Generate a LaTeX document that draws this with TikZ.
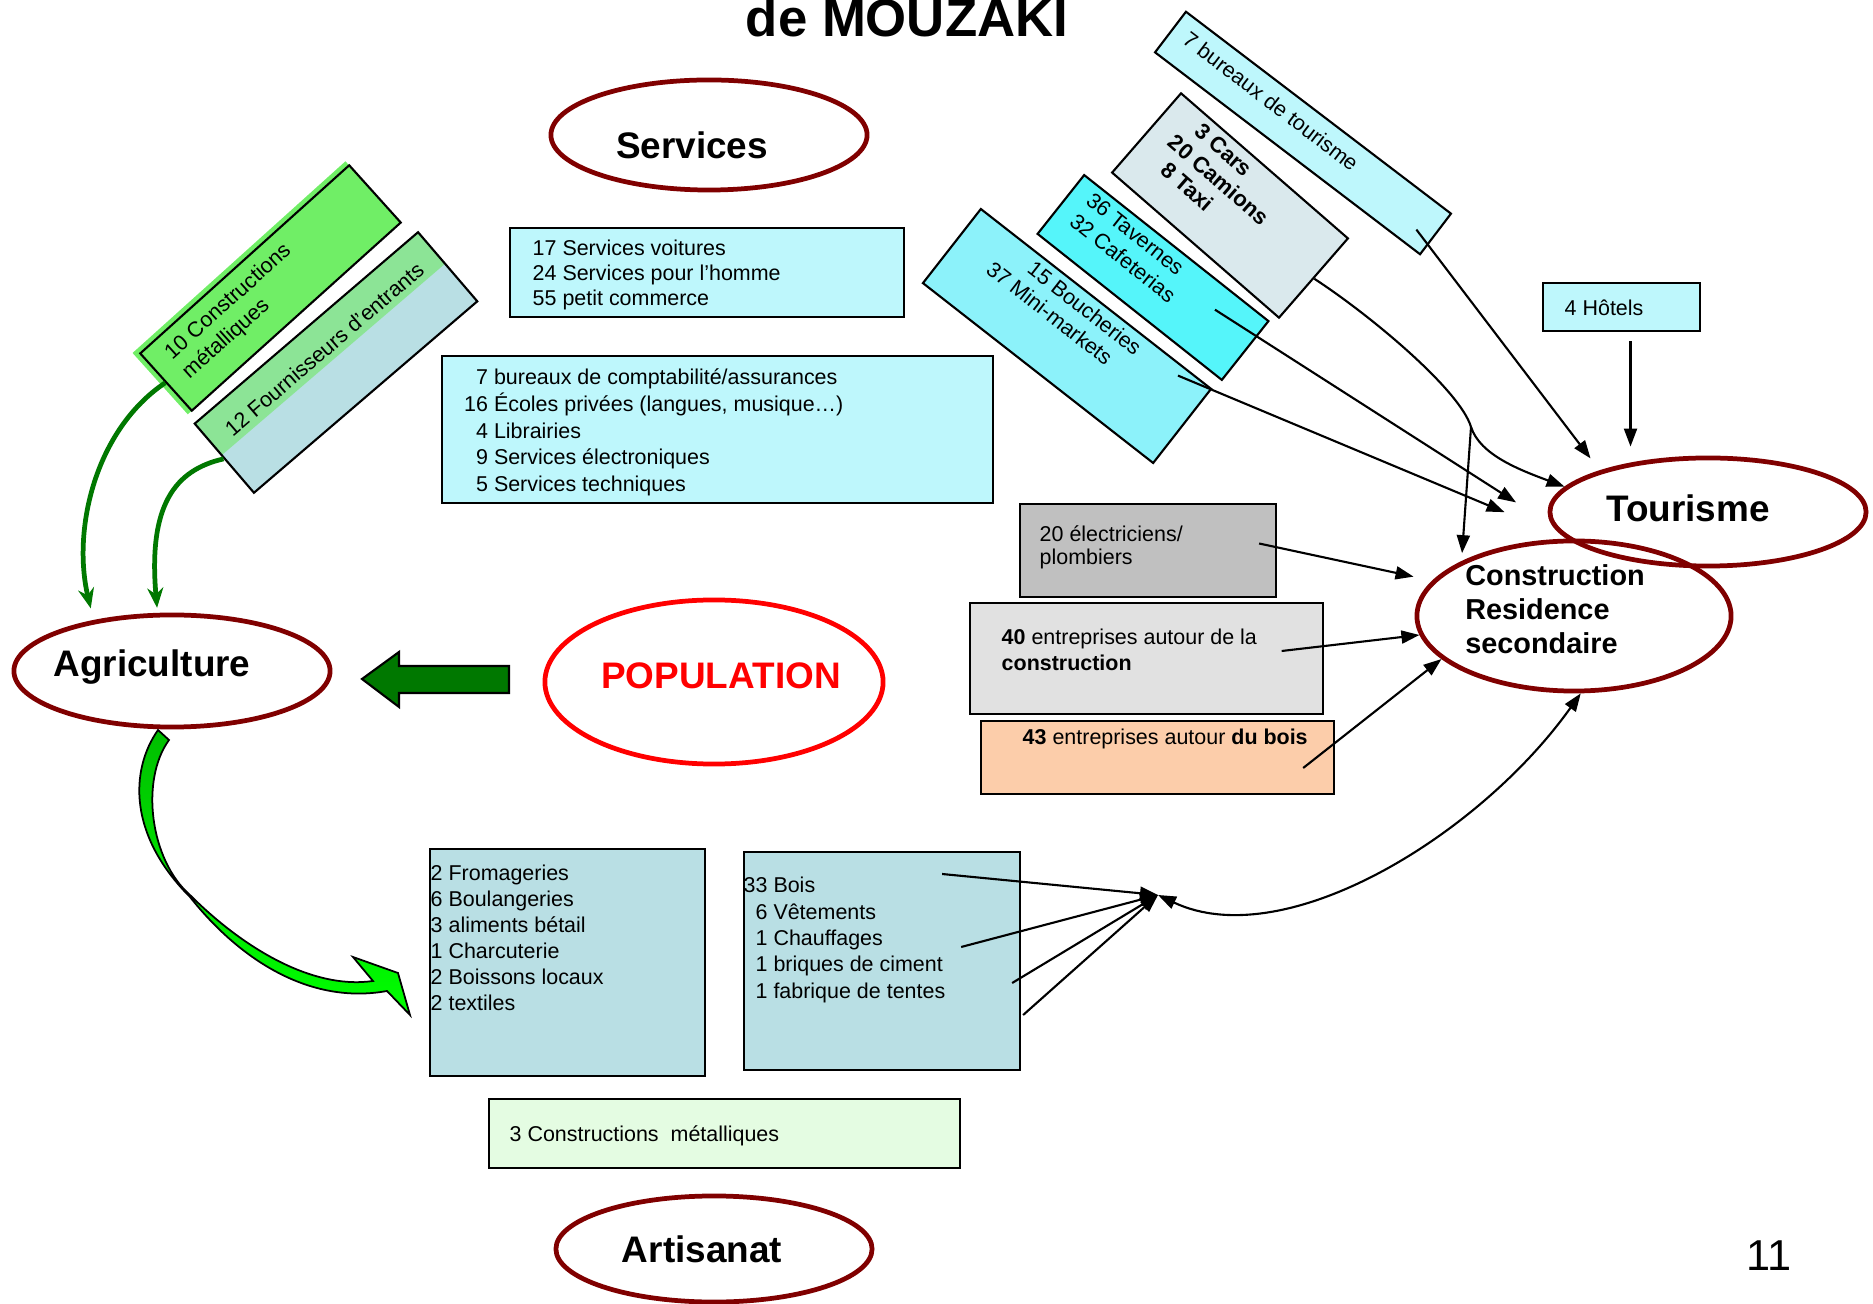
\documentclass[tikz,border=0pt]{standalone}
\usepackage{fontspec}
\setmainfont{Liberation Sans}
\usetikzlibrary{shapes.geometric,arrows.meta}

\definecolor{ellred}{RGB}{128,0,0}
\definecolor{popred}{RGB}{255,0,0}
\definecolor{cyanlt}{RGB}{190,247,252}
\definecolor{cyanmd}{RGB}{140,242,250}
\definecolor{cyanbr}{RGB}{85,245,250}
\definecolor{greyblue}{RGB}{218,233,237}
\definecolor{greenhat}{RGB}{112,238,102}
\definecolor{bandgr}{RGB}{140,228,150}
\definecolor{steel}{RGB}{185,223,228}
\definecolor{greymd}{RGB}{192,192,192}
\definecolor{greylt}{RGB}{225,225,225}
\definecolor{peach}{RGB}{252,205,170}
\definecolor{mint}{RGB}{228,252,226}
\definecolor{dkgreen}{RGB}{0,120,0}
\definecolor{brgreen}{RGB}{0,255,0}

\newcommand{\lignes}[1]{\begin{tabular}[t]{@{}l@{}}#1\end{tabular}}
\newcommand{\nlignes}[1]{\begin{tabular}[t]{@{}r@{ }l@{}}#1\end{tabular}}

\tikzset{
  bulle/.style={ellipse, draw=ellred, line width=1.35pt, inner sep=0pt},
  etiq/.style={inner sep=0pt, font=\bfseries\fontsize{10.5}{12}\selectfont},
  cadre/.style={draw, line width=0.6pt, inner sep=0pt},
  texte/.style={anchor=base west, inner sep=0pt, font=\fontsize{6.1}{7.4}\selectfont},
  fleche/.style={line width=0.6pt, -{Triangle[length=0.18cm,width=0.13cm]}},
  flecheverte/.style={draw=dkgreen, line width=1.35pt, -{Stealth[length=0.2cm,width=0.16cm]}},
}

\begin{document}
\begin{tikzpicture}[x=0.01cm, y=-0.01cm]
\useasboundingbox (0,0) rectangle (1873,1304);

\node[font=\bfseries\fontsize{15}{18}\selectfont, anchor=base] (titre) at (907,37) {de MOUZAKI};

% les secteurs
\node[bulle, minimum width=3.16cm, minimum height=1.1cm,
  label={[etiq, shift={(-17,10)}]center:Services}] (serv) at (709,135) {};
\node[bulle, minimum width=3.16cm, minimum height=1.08cm,
  label={[etiq, shift={(-20,-4)}]center:Tourisme}] (tour) at (1708,512) {};
\node[bulle, minimum width=3.14cm, minimum height=1.5cm,
  label={[etiq, align=left, font=\bfseries\fontsize{8.2}{9.6}\selectfont, shift={(-19,-7)}]center:{Construction\\Residence\\secondaire}}] (cons) at (1574,616) {};
\node[bulle, minimum width=3.16cm, minimum height=1.12cm,
  label={[etiq, shift={(-20,-4)}]center:Agriculture}] (agri) at (172,671) {};
\node[bulle, draw=popred, minimum width=3.38cm, minimum height=1.64cm,
  label={[etiq, text=popred, shift={(7,-6)}]center:POPULATION}] (popu) at (714,682) {};
\node[bulle, minimum width=3.16cm, minimum height=1.06cm,
  label={[etiq, shift={(-12,0)}]center:Artisanat}] (arti) at (714,1249) {};

% services
\node[cadre, fill=cyanlt, minimum width=3.94cm, minimum height=0.89cm] (sv) at (707,272.5) {};
\node[texte, font=\fontsize{6.1}{7}\selectfont] (svt) at (532,256)
  {\lignes{17 Services voitures\\24 Services pour l’homme\\55 petit commerce}};
\node[cadre, fill=cyanlt, minimum width=5.51cm, minimum height=1.47cm] (big) at (717.5,429.5) {};
\node[texte, font=\fontsize{6.1}{7.6}\selectfont] (bigt) at (463.5,384.7)
  {\nlignes{7 & bureaux de comptabilité/assurances\\16 & Écoles privées (langues, musique…)\\4 & Librairies\\9 & Services électroniques\\5 & Services techniques}};

% agriculture
\begin{scope}[shift={(270.5,288)}, rotate=42, transform shape]
\fill[greenhat] (-146,-44) rectangle (140.5,38.5);
\node[cadre, minimum width=2.81cm, minimum height=0.77cm] (cm) at (0,0) {};
\node[texte] (cmt) at (-122,-12) {\lignes{10 Constructions\\métalliques}};
\end{scope}
\begin{scope}[shift={(336,362.5)}, rotate=40.6, transform shape]
\fill[steel] (-147,-45.5) rectangle (147,45.5);
\fill[bandgr] (-147,-45.5) rectangle (147,-4);
\node[cadre, minimum width=2.94cm, minimum height=0.91cm] (fe) at (0,0) {};
\node[texte] (fet) at (-128,-10) {12 Fournisseurs d’entrants};
\end{scope}

% tourisme
\begin{scope}[shift={(1303,133)}, rotate=-37.3, transform shape]
\node[cadre, fill=cyanlt, minimum width=3.33cm, minimum height=0.51cm] (bt) at (0,0) {};
\node[texte] (btt) at (-152,2) {7 bureaux de tourisme};
\end{scope}
\begin{scope}[shift={(1230,205.5)}, rotate=-41, transform shape]
\node[cadre, fill=greyblue, minimum width=2.21cm, minimum height=1.05cm] (cars) at (0,0) {};
\node[texte, font=\bfseries\fontsize{6.3}{7.3}\selectfont] (carst) at (-88,-30) {\nlignes{3 & Cars\\20 & Camions\\8 & Taxi}};
\end{scope}
\begin{scope}[shift={(1153,277.5)}, rotate=-38.4, transform shape]
\node[cadre, fill=cyanbr, minimum width=2.35cm, minimum height=0.75cm] (tav) at (0,0) {};
\node[texte, font=\fontsize{6.1}{7.6}\selectfont] (tavt) at (-100,-15.7) {\lignes{36 Tavernes\\32 Cafeterias}};
\end{scope}
\begin{scope}[shift={(1067,336)}, rotate=-38, transform shape]
\node[cadre, fill=cyanmd, minimum width=2.92cm, minimum height=0.94cm] (bouch) at (0,0) {};
\node[texte, font=\fontsize{6.1}{7.3}\selectfont] (boucht) at (-104.6,-25.3) {\lignes{\hspace*{1.5em}15 Boucheries\\37 Mini-markets}};
\end{scope}
\node[cadre, fill=cyanlt, minimum width=1.57cm, minimum height=0.48cm] (hot) at (1621.5,307) {};
\node[texte] (hott) at (1564,315.7) {4 Hôtels};

% construction
\node[cadre, fill=greymd, minimum width=2.56cm, minimum height=0.93cm] (elec) at (1148,550.5) {};
\node[texte, font=\fontsize{6.1}{6.5}\selectfont] (elect) at (1039,541.7) {\lignes{20 électriciens/\\plombiers}};
\node[cadre, fill=greylt, minimum width=3.53cm, minimum height=1.11cm] (ent) at (1146.5,658.5) {};
\node[texte] (entt) at (1001,644.7) {\lignes{\textbf{40} entreprises autour de la\\\textbf{construction}}};
\node[cadre, fill=peach, minimum width=3.53cm, minimum height=0.73cm] (bois) at (1157.5,757.5) {};
\node[texte] (boist) at (1022,744.7) {\textbf{43} entreprises autour \textbf{du bois}};

% artisanat
\node[cadre, fill=steel, minimum width=2.75cm, minimum height=2.27cm] (fro) at (567.5,962.5) {};
\node[texte] (frot) at (430,880.7)
  {\lignes{2 Fromageries\\6 Boulangeries\\3 aliments bétail\\1 Charcuterie\\2 Boissons locaux\\2 textiles}};
\node[cadre, fill=steel, minimum width=2.76cm, minimum height=2.18cm] (wood) at (882,961) {};
\node[texte, font=\fontsize{6.1}{7.5}\selectfont] (woodt) at (743,892.7)
  {\nlignes{33 & Bois\\6 & Vêtements\\1 & Chauffages\\1 & briques de ciment\\1 & fabrique de tentes}};
\node[cadre, fill=mint, minimum width=4.71cm, minimum height=0.69cm] (met) at (724.5,1133.5) {};
\node[texte] (mett) at (509,1141.7) {3 Constructions~ métalliques};

\node[font=\fontsize{12.3}{14}\selectfont] (page) at (1769,1256) {11};

% grosses fleches vertes
\draw[fill=dkgreen, line width=0.6pt] (509,666) -- (399,666) -- (399,652) -- (362,679)
  -- (399,707) -- (399,693) -- (509,693) -- cycle;
\draw[line width=0.5pt, top color=brgreen!75!black, bottom color=brgreen]
  (158,730) -- (169,740) .. controls (140,780) and (150,860) .. (190,895)
  .. controls (240,945) and (310,990) .. (373,981) -- (353,957) -- (398,973) -- (410,1015) -- (387,991)
  .. controls (310,1005) and (240,960) .. (190,897) .. controls (128,835) and (130,770) .. (158,730) -- cycle;
\draw[flecheverte, shorten >=0.12cm] (cm.west) .. controls (95,430) and (72,530) .. (agri.147);
\draw[flecheverte, shorten >=0.05cm] (fe.west) .. controls (175,470) and (148,505) .. (agri.104);

% vers le tourisme
\coordinate (bend) at (1471,427);
\draw[fleche, shorten >=0.15cm] ([shift={(-20,-5)}]bt.east) -- (tour.159);
\draw[fleche, shorten <=0.09cm, shorten >=0.09cm] ([xshift=0.09cm]hot.south) -- ([xshift=0.09cm]hot.south |- tour.north);
\draw[fleche] (cars.east) .. controls (1370,315) and (1460,390) .. (bend)
  .. controls (1480,455) and (1520,470) .. (tour.170);
\draw[fleche, shorten >=0.08cm] (bend) -- (cons.154);
\draw[fleche, shorten >=0.43cm] ([shift={(-31,-41.5)}]tav.east) -- (tour.185);
\draw[fleche, shorten >=0.65cm] ([shift={(-5,-51)}]bouch.east) -- (tour.190);

% vers la construction
\draw[fleche, shorten >=0.19cm] ([shift={(-18,-7)}]elec.east) -- (cons.166);
\draw[fleche] ([shift={(-42.5,-7.5)}]ent.east) -- (cons.187);
\draw[fleche] ([shift={(-32,10.5)}]bois.east) -- (cons.198);
\coordinate (hub) at (1158,895);
\foreach \dx/\dy in {-79/-87, -60/-14, -9/22, 2/54}
  \draw[fleche] ([shift={(\dx,\dy)}]wood.east) -- (hub);
\draw[line width=0.6pt, {Triangle[length=0.18cm,width=0.13cm]}-{Triangle[length=0.18cm,width=0.13cm]}]
  (hub) .. controls (1285,955) and (1480,835) .. (cons.-85);
\end{tikzpicture}
\end{document}
